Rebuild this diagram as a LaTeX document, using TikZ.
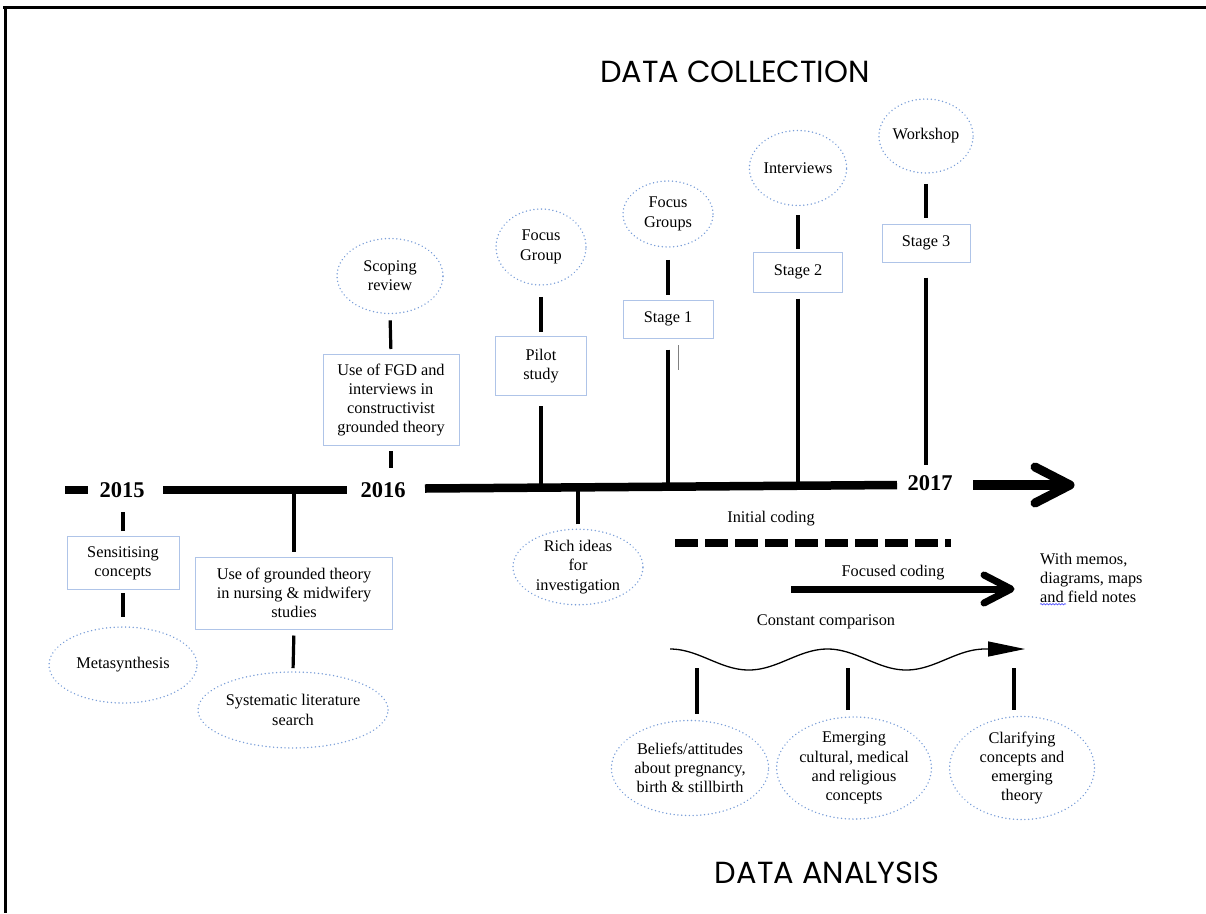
\documentclass[tikz,border=0pt]{standalone}
\usepackage{fontspec}
\setmainfont{Liberation Serif}
\newfontfamily\headfont{Poppins}
\usetikzlibrary{shapes.geometric,arrows.meta,decorations.pathmorphing,calc}

\definecolor{boxline}{RGB}{175,196,232}
\definecolor{dotline}{RGB}{122,158,216}

\begin{document}
\begin{tikzpicture}[x=1pt,y=-1pt,
  every node/.style={font=\fontsize{16.3}{19.3}\selectfont, inner sep=0pt},
  stagebox/.style={draw=boxline, line width=1pt, rectangle, align=center},
  bubble/.style={draw=dotline, line width=1.6pt, line cap=round,
                 dash pattern=on 0.01pt off 3.8pt, ellipse, align=center},
  link/.style={line width=3.2pt},
  year/.style={font=\fontsize{22.5}{24}\selectfont\bfseries},
  heading/.style={font=\headfont\fontsize{30.5}{34}\selectfont},
  chev/.style={line cap=round, line join=round},
]
\useasboundingbox (0,0) rectangle (1206,913);

% page frame
\draw[line width=3pt] (3,7) -- (1206,7);
\draw[line width=3pt] (5,7) -- (5,913);

% headings
\node[heading] (hcoll) at (735,72) {DATA COLLECTION};
\node[heading] (hana) at (827,873) {DATA ANALYSIS};

% time axis
\coordinate (tl) at (0,488);
\coordinate (t0) at (65,490);  \coordinate (t1) at (88,490);
\coordinate (t2) at (163,490); \coordinate (t3) at (347,490);
\coordinate (t4) at (425,488.5); \coordinate (t5) at (897,485);
\coordinate (t6) at (973,485); \coordinate (t7) at (1070,485);
\draw[line width=8.5pt] (t0) -- (t1);
\draw[line width=8.5pt] (t2) -- (t3);
\draw[line width=8.5pt] (t4) -- (t5);
\draw[line width=9.5pt] (t6) -- ($(t7)+(-6,0)$);
\draw[line width=9pt, chev] ($(t7)+(-35,-18)$) -- (t7) -- ($(t7)+(-35,18)$);
\node[year] (y2015) at (122,490) {2015};
\node[year] (y2016) at (383,490) {2016};
\node[year] (y2017) at (930,483) {2017};

% literature stage (below the axis)
\node[stagebox, minimum width=112pt, minimum height=53pt] (sens) at (123,563) {Sensitising\\concepts};
\node[bubble, minimum width=148pt, minimum height=76pt] (meta) at (123,665) {Metasynthesis};
\node[stagebox, minimum width=197pt, minimum height=72pt] (usegt) at (294,593)
  {Use of grounded theory\\in nursing \& midwifery\\studies};
\node[bubble, minimum width=177pt, minimum height=76pt] (syst) at (293,710) {Systematic literature\\search};
\node[bubble, minimum width=130pt, minimum height=73pt] (rich) at (578,567) {Rich ideas\\for\\investigation};

\draw[link, shorten <=5pt, shorten >=24pt] (sens.north) -- (sens.north |- tl);
\draw[link, shorten <=3pt, shorten >=9pt] (sens.south) -- (meta.north);
\draw[link, shorten <=5pt] (usegt.north) -- (usegt.north |- tl);
\draw[link, shorten <=6pt, shorten >=3pt] (usegt.south) -- (syst.north);
\draw[link, shorten <=4pt] (rich.north) -- (rich.north |- tl);

% collection stages (above the axis)
\node[bubble, minimum width=106pt, minimum height=75pt] (scope) at (390,276) {Scoping\\review};
\node[stagebox, minimum width=136pt, minimum height=91pt] (fgd) at (391,400)
  {Use of FGD and\\interviews in\\constructivist\\grounded theory};
\node[bubble, minimum width=90pt, minimum height=76pt] (fgroup) at (541,247) {Focus\\Group};
\node[stagebox, minimum width=91pt, minimum height=59pt] (pilot) at (541,366) {Pilot\\study};
\node[bubble, minimum width=90pt, minimum height=66pt] (fgroups) at (668,214) {Focus\\Groups};
\node[stagebox, minimum width=90pt, minimum height=38pt] (stage1) at (668,319) {Stage 1};
\node[bubble, minimum width=90pt, minimum height=75pt] (interv) at (798,168) {Interviews};
\node[stagebox, minimum width=89pt, minimum height=40pt] (stage2) at (798,272) {Stage 2};
\node[bubble, minimum width=90pt, minimum height=74pt] (workshop) at (926,136) {Workshop};
\node[stagebox, minimum width=88pt, minimum height=38pt] (stage3) at (926,243) {Stage 3};

\draw[link, shorten <=6pt, shorten >=5pt] (scope.south) -- (fgd.north);
\draw[link, shorten <=5pt, shorten >=20pt] (fgd.south) -- (fgd.south |- tl);
\draw[link, shorten <=11pt, shorten >=4pt] (fgroup.south) -- (pilot.north);
\draw[link, shorten <=10pt] (pilot.south) -- (pilot.south |- tl);
\draw[link, shorten <=12pt, shorten >=5pt] (fgroups.south) -- (stage1.north);
\draw[link, shorten <=11pt] (stage1.south) -- (stage1.south |- tl);
\draw[link, shorten <=9pt, shorten >=3pt] (interv.south) -- (stage2.north);
\draw[link, shorten <=6pt] (stage2.south) -- (stage2.south |- tl);
\draw[link, shorten <=10pt, shorten >=6pt] (workshop.south) -- (stage3.north);
\draw[link, shorten <=15pt, shorten >=23pt] (stage3.south) -- (stage3.south |- tl);
% thin cursor mark beside the Stage 1 line
\coordinate (cur) at (678,345);
\draw[gray, line width=0.9pt] (cur) -- ++(0,25);

% coding
\node (initial) at (771,519) {Initial coding};
\coordinate (ic0) at (675,543); \coordinate (ic1) at (951,543);
\draw[line width=7.5pt, dash pattern=on 23pt off 7pt] (ic0) -- (ic1);

\node (focused) at (893,573) {Focused coding};
\coordinate (fc0) at (791,589); \coordinate (fc1) at (1011,589);
\draw[line width=7pt] (fc0) -- ($(fc1)+(-5,0)$);
\draw[line width=7pt, chev] ($(fc1)+(-27,-14)$) -- (fc1) -- ($(fc1)+(-27,14)$);

\node[anchor=west, align=left] (memo) at (1040,578) {With memos,\\diagrams, maps\\and field notes};
\draw[blue!80, line width=0.5pt, decorate, decoration={snake, amplitude=0.7pt, segment length=3pt}]
  ($(memo.south west)+(0,1)$) -- ++(26,0);

% constant comparison
\node (constant) at (826,622) {Constant comparison};
\coordinate (wave) at (0,659.5);
\coordinate (wend) at (1025,649);
\draw[line width=1.3pt, -{Triangle[length=37pt, width=15pt]}]
  plot[domain=670:985, samples=120, smooth] (\x, {659.5 - 10.5*cos((\x-670)/157.5*360)}) -- (wend);

\node[bubble, minimum width=145pt, minimum height=95pt] (beliefs) at (690,768)
  {Beliefs/attitudes\\about pregnancy,\\birth \& stillbirth};
\node[bubble, minimum width=145pt, minimum height=95pt] (emerg) at (854,768)
  {Emerging\\cultural, medical\\and religious\\concepts};
\node[bubble, minimum width=145pt, minimum height=95pt] (clar) at (1022,768)
  {Clarifying\\concepts and\\emerging\\theory};

\coordinate (s1) at (697,659.5);
\coordinate (s2) at (848,659.5);
\coordinate (s3) at (1014,659.5);
\draw[link, shorten <=6pt, shorten >=8.5pt] (s1 |- beliefs.north) -- (s1);
\draw[link, shorten <=6pt, shorten >=8.5pt] (s2 |- emerg.north) -- (s2);
\draw[link, shorten <=6pt, shorten >=8.5pt] (s3 |- clar.north) -- (s3);
\end{tikzpicture}
\end{document}
